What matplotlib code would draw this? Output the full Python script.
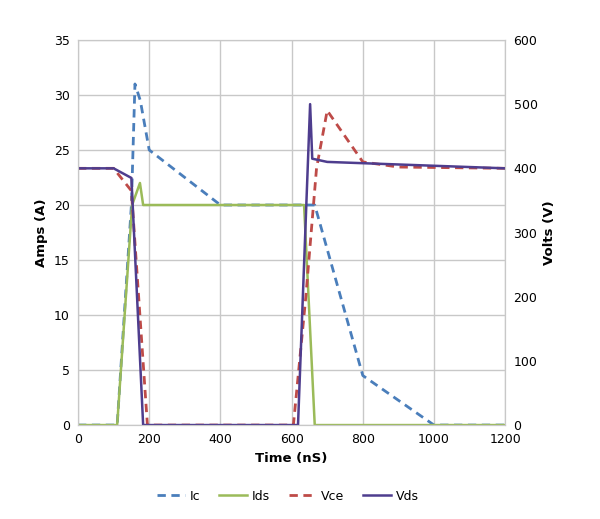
import matplotlib.pyplot as plt

# Current traces (Amps, left axis)
t_ic = [0, 110, 150, 160, 175, 200, 400, 665, 800, 1000, 1200]
ic = [0, 0, 20, 31, 29.5, 25, 20, 20, 4.5, 0, 0]

t_ids = [0, 110, 152, 174, 183, 635, 665, 1200]
ids = [0, 0, 20, 22, 20, 20, 0, 0]

# Voltage traces (Volts, right axis)
t_vce = [0, 100, 150, 195, 605, 640, 670, 700, 800, 900, 1200]
vce = [400, 400, 365, 0, 0, 200, 400, 490, 410, 402, 400]

t_vds = [0, 100, 150, 183, 618, 652, 658, 700, 800, 1200]
vds = [400, 400, 385, 0, 0, 500, 415, 410, 408, 400]

c_ic = '#4a7ebb'
c_ids = '#9bbb59'
c_vce = '#be4b48'
c_vds = '#4e3d8e'

fig = plt.figure(figsize=(6, 5.19), dpi=100)
ax = fig.add_axes([0.13, 0.181, 0.712, 0.742])
ax2 = ax.twinx()

l1, = ax.plot(t_ic, ic, color=c_ic, lw=2, ls=(0, (3, 2)), label='Ic')
l2, = ax.plot(t_ids, ids, color=c_ids, lw=1.8, label='Ids')
l3, = ax2.plot(t_vce, vce, color=c_vce, lw=2, ls=(0, (3, 2)), label='Vce')
l4, = ax2.plot(t_vds, vds, color=c_vds, lw=1.8, label='Vds')

ax.set_xlim(0, 1200)
ax.set_ylim(0, 35)
ax2.set_ylim(0, 600)
ax.set_xticks(range(0, 1201, 200))
ax.set_yticks(range(0, 36, 5))
ax2.set_yticks(range(0, 601, 100))

ax.grid(True, color='#c8c8c8', lw=1)
ax.set_axisbelow(True)
for a in (ax, ax2):
    a.tick_params(length=0, labelsize=9, pad=6)
    for s in a.spines.values():
        s.set_color('#c8c8c8')

ax.set_xlabel('Time (nS)', fontweight='bold', fontsize=9.5)
ax.set_ylabel('Amps (A)', fontweight='bold', fontsize=9.5)
ax2.set_ylabel('Volts (V)', fontweight='bold', fontsize=9.5)

fig.legend(handles=[l1, l2, l3, l4], loc='lower center', ncol=4,
           bbox_to_anchor=(0.48, 0.01), frameon=False, fontsize=9,
           handlelength=2.2, columnspacing=1.5, handletextpad=0.4)

fig.savefig('out.png', dpi=100)
